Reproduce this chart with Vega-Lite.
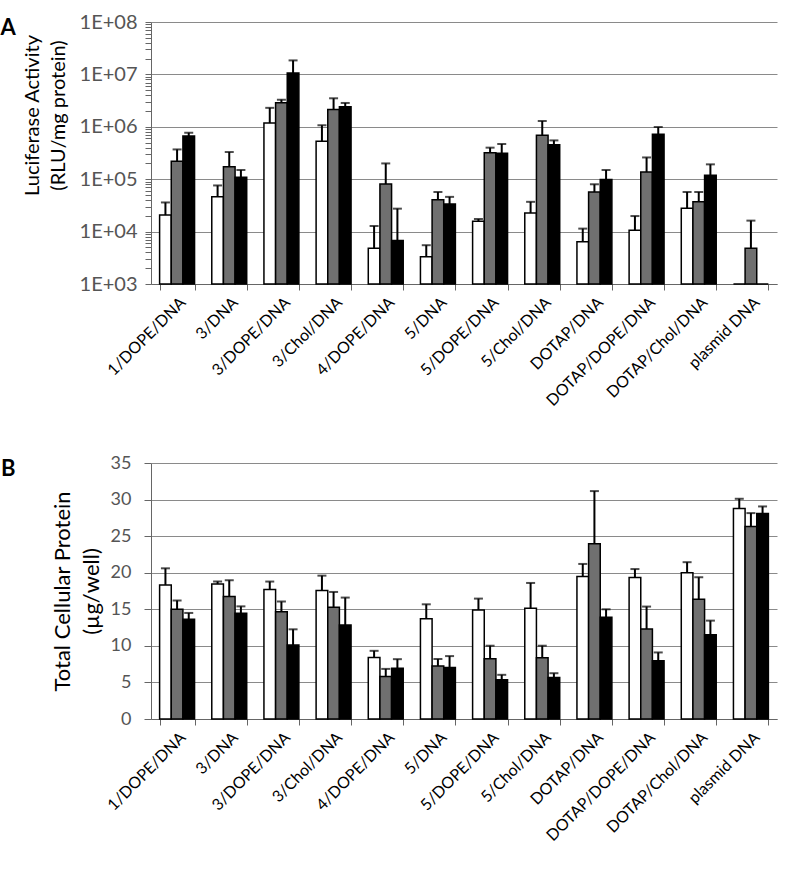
{
  "$schema": "https://vega.github.io/schema/vega-lite/v6.json",
  "padding": {"left": 0, "top": 12, "right": 10, "bottom": 5},
  "config": {"view": {"stroke": null}, "font": "Lato"},
  "datasets": {
    "bars": [
      {"cat": "1/DOPE/DNA", "s": "s1", "luc": 20700, "lucErr": 36000, "prot": 18.33, "protErr": 20.6},
      {"cat": "1/DOPE/DNA", "s": "s2", "luc": 219000, "lucErr": 370000, "prot": 15.0, "protErr": 16.2},
      {"cat": "1/DOPE/DNA", "s": "s3", "luc": 667000, "lucErr": 770000, "prot": 13.63, "protErr": 14.5},
      {"cat": "3/DNA", "s": "s1", "luc": 46000, "lucErr": 76000, "prot": 18.47, "protErr": 18.8},
      {"cat": "3/DNA", "s": "s2", "luc": 173000, "lucErr": 330000, "prot": 16.74, "protErr": 18.97},
      {"cat": "3/DNA", "s": "s3", "luc": 109000, "lucErr": 150000, "prot": 14.45, "protErr": 15.4},
      {"cat": "3/DOPE/DNA", "s": "s1", "luc": 1180000, "lucErr": 2300000, "prot": 17.69, "protErr": 18.79},
      {"cat": "3/DOPE/DNA", "s": "s2", "luc": 2890000, "lucErr": 3300000, "prot": 14.68, "protErr": 16.05},
      {"cat": "3/DOPE/DNA", "s": "s3", "luc": 10600000, "lucErr": 18500000, "prot": 10.11, "protErr": 12.26},
      {"cat": "3/Chol/DNA", "s": "s1", "luc": 530000, "lucErr": 1070000, "prot": 17.56, "protErr": 19.6},
      {"cat": "3/Chol/DNA", "s": "s2", "luc": 2150000, "lucErr": 3500000, "prot": 15.27, "protErr": 17.37},
      {"cat": "3/Chol/DNA", "s": "s3", "luc": 2420000, "lucErr": 2850000, "prot": 12.85, "protErr": 16.6},
      {"cat": "4/DOPE/DNA", "s": "s1", "luc": 4800, "lucErr": 12800, "prot": 8.41, "protErr": 9.32},
      {"cat": "4/DOPE/DNA", "s": "s2", "luc": 81000, "lucErr": 200000, "prot": 5.8, "protErr": 6.85},
      {"cat": "4/DOPE/DNA", "s": "s3", "luc": 6800, "lucErr": 27400, "prot": 6.95, "protErr": 8.18},
      {"cat": "5/DNA", "s": "s1", "luc": 3300, "lucErr": 5500, "prot": 13.72, "protErr": 15.68},
      {"cat": "5/DNA", "s": "s2", "luc": 40700, "lucErr": 57000, "prot": 7.25, "protErr": 8.2},
      {"cat": "5/DNA", "s": "s3", "luc": 33600, "lucErr": 46000, "prot": 7.05, "protErr": 8.6},
      {"cat": "5/DOPE/DNA", "s": "s1", "luc": 15700, "lucErr": 17400, "prot": 14.91, "protErr": 16.46},
      {"cat": "5/DOPE/DNA", "s": "s2", "luc": 320000, "lucErr": 400000, "prot": 8.24, "protErr": 10.02},
      {"cat": "5/DOPE/DNA", "s": "s3", "luc": 312000, "lucErr": 470000, "prot": 5.36, "protErr": 6.04},
      {"cat": "5/Chol/DNA", "s": "s1", "luc": 22600, "lucErr": 37000, "prot": 15.14, "protErr": 18.6},
      {"cat": "5/Chol/DNA", "s": "s2", "luc": 690000, "lucErr": 1290000, "prot": 8.38, "protErr": 10.02},
      {"cat": "5/Chol/DNA", "s": "s3", "luc": 456000, "lucErr": 550000, "prot": 5.68, "protErr": 6.26},
      {"cat": "DOTAP/DNA", "s": "s1", "luc": 6400, "lucErr": 11400, "prot": 19.47, "protErr": 21.2},
      {"cat": "DOTAP/DNA", "s": "s2", "luc": 57000, "lucErr": 80000, "prot": 23.95, "protErr": 31.16},
      {"cat": "DOTAP/DNA", "s": "s3", "luc": 99000, "lucErr": 150000, "prot": 13.9, "protErr": 15.0},
      {"cat": "DOTAP/DOPE/DNA", "s": "s1", "luc": 10600, "lucErr": 19800, "prot": 19.34, "protErr": 20.5},
      {"cat": "DOTAP/DOPE/DNA", "s": "s2", "luc": 137000, "lucErr": 260000, "prot": 12.3, "protErr": 15.37},
      {"cat": "DOTAP/DOPE/DNA", "s": "s3", "luc": 720000, "lucErr": 990000, "prot": 7.97, "protErr": 9.1},
      {"cat": "DOTAP/Chol/DNA", "s": "s1", "luc": 27800, "lucErr": 57000, "prot": 19.98, "protErr": 21.44},
      {"cat": "DOTAP/Chol/DNA", "s": "s2", "luc": 37000, "lucErr": 57000, "prot": 16.37, "protErr": 19.38},
      {"cat": "DOTAP/Chol/DNA", "s": "s3", "luc": 119000, "lucErr": 192000, "prot": 11.53, "protErr": 13.45},
      {"cat": "plasmid DNA", "s": "s1", "luc": 1000, "lucErr": null, "prot": 28.79, "protErr": 30.11},
      {"cat": "plasmid DNA", "s": "s2", "luc": 4800, "lucErr": 16200, "prot": 26.32, "protErr": 28.15},
      {"cat": "plasmid DNA", "s": "s3", "luc": 1000, "lucErr": null, "prot": 28.1, "protErr": 29.06}
    ]
  },
  "vconcat": [
    {
      "width": 626,
      "height": 262,
      "title": {"text": "A", "orient": "left", "anchor": "end", "angle": 0, "frame": "group", "fontSize": 22, "fontWeight": "bold", "font": "Lato", "color": "#000000", "baseline": "top", "align": "right", "dy": -4, "offset": -9},
      "data": {"name": "bars"},
      "encoding": {
        "x": {"field": "cat", "type": "nominal", "sort": null,
          "scale": {"paddingInner": 0.33, "paddingOuter": 0.165},
          "axis": {"title": null, "labelAngle": -45, "labelFontSize": 16, "labelColor": "#000000", "labelPadding": 4, "tickBand": "extent", "tickSize": 6, "tickColor": "#666666", "domainColor": "#666666", "labelFont": "Lato"}},
        "xOffset": {"field": "s", "type": "nominal", "scale": {"paddingInner": 0, "paddingOuter": 0}},
        "y": {"field": "luc", "type": "quantitative",
          "scale": {"type": "log", "domain": [1000, 100000000], "nice": false},
          "axis": {
            "title": ["Luciferase Activity", "(RLU/mg protein)"],
            "titleFontSize": 20, "titleFontWeight": "normal", "titleColor": "#000000", "titleFont": "Lato",
            "titleLineHeight": 26, "titleX": -109, "titleY": 93,
            "values": [1000,2000,3000,4000,5000,6000,7000,8000,9000,10000,20000,30000,40000,50000,60000,70000,80000,90000,100000,200000,300000,400000,500000,600000,700000,800000,900000,1000000,2000000,3000000,4000000,5000000,6000000,7000000,8000000,9000000,10000000,20000000,30000000,40000000,50000000,60000000,70000000,80000000,90000000,100000000],
            "labelExpr": "abs(log(datum.value)/LN10 - round(log(datum.value)/LN10)) < 0.0001 ? '1E+0' + round(log(datum.value)/LN10) : ''",
            "labelOverlap": false, "labelFontSize": 20, "labelColor": "#555555", "labelPadding": 8, "labelFont": "Lato",
            "tickSize": 6, "tickColor": "#666666", "domainColor": "#666666",
            "grid": true, "gridColor": "#8a8a8a",
            "gridOpacity": {"condition": {"test": "abs(log(datum.value)/LN10 - round(log(datum.value)/LN10)) < 0.0001", "value": 1}, "value": 0}
          }}
      },
      "layer": [
        {
          "mark": {"type": "bar", "stroke": "#000000", "strokeWidth": 1.5},
          "encoding": {
            "y2": {"datum": 1000},
            "color": {"field": "s", "type": "nominal", "scale": {"domain": ["s1", "s2", "s3"], "range": ["#ffffff", "#707070", "#000000"]}, "legend": null}
          }
        },
        {
          "transform": [{"filter": "datum.lucErr != null"}],
          "mark": {"type": "rule", "color": "#000000", "strokeWidth": 2},
          "encoding": {"y2": {"field": "lucErr"}}
        },
        {
          "transform": [{"filter": "datum.lucErr != null"}],
          "mark": {"type": "tick", "color": "#000000", "thickness": 2, "size": 9, "orient": "horizontal"},
          "encoding": {"y": {"field": "lucErr", "type": "quantitative", "scale": {"type": "log", "domain": [1000, 100000000], "nice": false}}}
        }
      ]
    },
    {
      "width": 626,
      "height": 256,
      "title": {"text": "B", "orient": "left", "anchor": "end", "angle": 0, "frame": "group", "fontSize": 22, "fontWeight": "bold", "font": "Lato", "color": "#000000", "baseline": "top", "align": "right", "dy": -4, "offset": 21},
      "data": {"name": "bars"},
      "encoding": {
        "x": {"field": "cat", "type": "nominal", "sort": null,
          "scale": {"paddingInner": 0.33, "paddingOuter": 0.165},
          "axis": {"title": null, "labelAngle": -45, "labelFontSize": 16, "labelColor": "#000000", "labelPadding": 4, "tickBand": "extent", "tickSize": 6, "tickColor": "#666666", "domainColor": "#666666", "labelFont": "Lato"}},
        "xOffset": {"field": "s", "type": "nominal", "scale": {"paddingInner": 0, "paddingOuter": 0}},
        "y": {"field": "prot", "type": "quantitative",
          "scale": {"domain": [0, 35], "nice": false},
          "axis": {
            "title": ["Total Cellular Protein", "(µg/well)"],
            "titleFontSize": 22, "titleFontWeight": "normal", "titleColor": "#000000", "titleFont": "Lato",
            "titleLineHeight": 29, "titleX": -77,
            "values": [0, 5, 10, 15, 20, 25, 30, 35], "tickCount": 8,
            "labelOverlap": false, "labelFontSize": 18, "labelColor": "#555555", "labelPadding": 13, "labelFont": "Lato",
            "tickSize": 7, "tickColor": "#666666", "domainColor": "#666666",
            "grid": true, "gridColor": "#8a8a8a"
          }}
      },
      "layer": [
        {
          "mark": {"type": "bar", "stroke": "#000000", "strokeWidth": 1.5},
          "encoding": {
            "color": {"field": "s", "type": "nominal", "scale": {"domain": ["s1", "s2", "s3"], "range": ["#ffffff", "#707070", "#000000"]}, "legend": null}
          }
        },
        {
          "mark": {"type": "rule", "color": "#000000", "strokeWidth": 2},
          "encoding": {"y2": {"field": "protErr"}}
        },
        {
          "mark": {"type": "tick", "color": "#000000", "thickness": 2, "size": 9, "orient": "horizontal"},
          "encoding": {"y": {"field": "protErr", "type": "quantitative", "scale": {"domain": [0, 35], "nice": false}}}
        }
      ]
    }
  ],
  "bounds": "flush",
  "spacing": 179
}
